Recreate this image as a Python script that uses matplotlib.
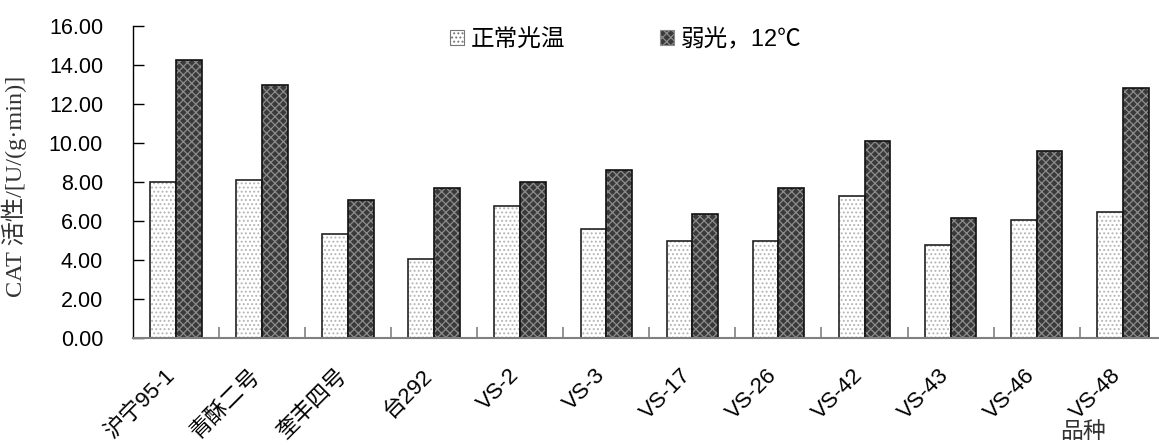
import numpy as np
import matplotlib.pyplot as plt
from matplotlib.patches import Patch
from matplotlib import transforms

plt.rcParams['hatch.linewidth'] = 0.9

# CAT activity for each cultivar
varieties = ['沪宁95-1', '青酥二号', '奎丰四号', '台292', 'VS-2', 'VS-3',
             'VS-17', 'VS-26', 'VS-42', 'VS-43', 'VS-46', 'VS-48']
normal = [8.00, 8.10, 5.35, 4.05, 6.75, 5.57, 4.96, 4.96, 7.27, 4.75, 6.07, 6.45]
weak_light = [14.27, 12.95, 7.06, 7.68, 7.98, 8.60, 6.34, 7.68, 10.09, 6.14, 9.59, 12.81]
yticks = [0, 2, 4, 6, 8, 10, 12, 14, 16]

sans_cjk = ['Liberation Sans', 'Noto Sans CJK SC']
serif_cjk = ['Liberation Serif', 'Noto Sans CJK SC']

fig = plt.figure(figsize=(11.59, 4.45), dpi=100)
ax = fig.add_axes([0.1148, 0.2404, 0.891, 0.7012])

x = np.arange(len(varieties))
w = 0.3

# light bars: white with grey dot pattern
ax.bar(x - w/2, normal, w, color='white', edgecolor='#b5b5b5', hatch='....', linewidth=0)
ax.bar(x - w/2, normal, w, fill=False, edgecolor='#222222', linewidth=1.2)
# dark bars: grey checker
ax.bar(x + w/2, weak_light, w, color='#3a3a3a', edgecolor='#8c8c8c', hatch='xxxx', linewidth=0)
ax.bar(x + w/2, weak_light, w, fill=False, edgecolor='#111111', linewidth=1.2)

ax.set_xlim(-0.5, len(varieties) - 0.5)
ax.set_ylim(0, 16)

for s in ['top', 'right']:
    ax.spines[s].set_visible(False)
ax.spines['left'].set_color('black')
ax.spines['left'].set_linewidth(1.0)
ax.spines['bottom'].set_color('#808080')
ax.spines['bottom'].set_linewidth(1.5)

ax.set_yticks(yticks)
ax.set_yticklabels([f'{v:.2f}' for v in yticks], fontsize=15.5, family='Liberation Sans')
ax.tick_params(axis='y', direction='in', length=8, width=1, pad=21.6, colors='black')

# ticks between categories, labels placed separately
ax.set_xticks(x[:-1] + 0.5)
ax.set_xticklabels([])
ax.tick_params(axis='x', direction='in', length=8, width=1.2, color='#808080')

shift = transforms.ScaledTranslation(-12/100, -27/100, fig.dpi_scale_trans)
trans = transforms.blended_transform_factory(ax.transData, ax.transAxes) + shift
for xi, name in zip(x, varieties):
    ax.text(xi, 0, name, transform=trans, rotation=45, rotation_mode='anchor',
            ha='right', va='top', fontsize=16, family=sans_cjk)

ax.set_ylabel('CAT 活性/[U/(g·min)]', fontsize=17.5, family=serif_cjk, color='#333333')
ax.yaxis.set_label_coords(-0.1026, 0.486)

fig.text(1083/1159, 1 - 432/445, '品种', fontsize=16.5, family=sans_cjk,
         ha='center', va='center', color='#333333')

handles = [Patch(facecolor='white', edgecolor='#777777', hatch='....', linewidth=0.8),
           Patch(facecolor='#3a3a3a', edgecolor='#8c8c8c', hatch='xxxx', linewidth=0.8)]
ax.legend(handles, ['正常光温', '弱光，12℃'], ncol=2, frameon=False,
          prop={'family': sans_cjk, 'size': 17},
          loc='center', bbox_to_anchor=((626 - 133) / 1033, (338 - 40) / 312),
          handlelength=0.6, handleheight=0.6, handletextpad=0.3, columnspacing=4.0)

fig.savefig('out.png', dpi=100)
